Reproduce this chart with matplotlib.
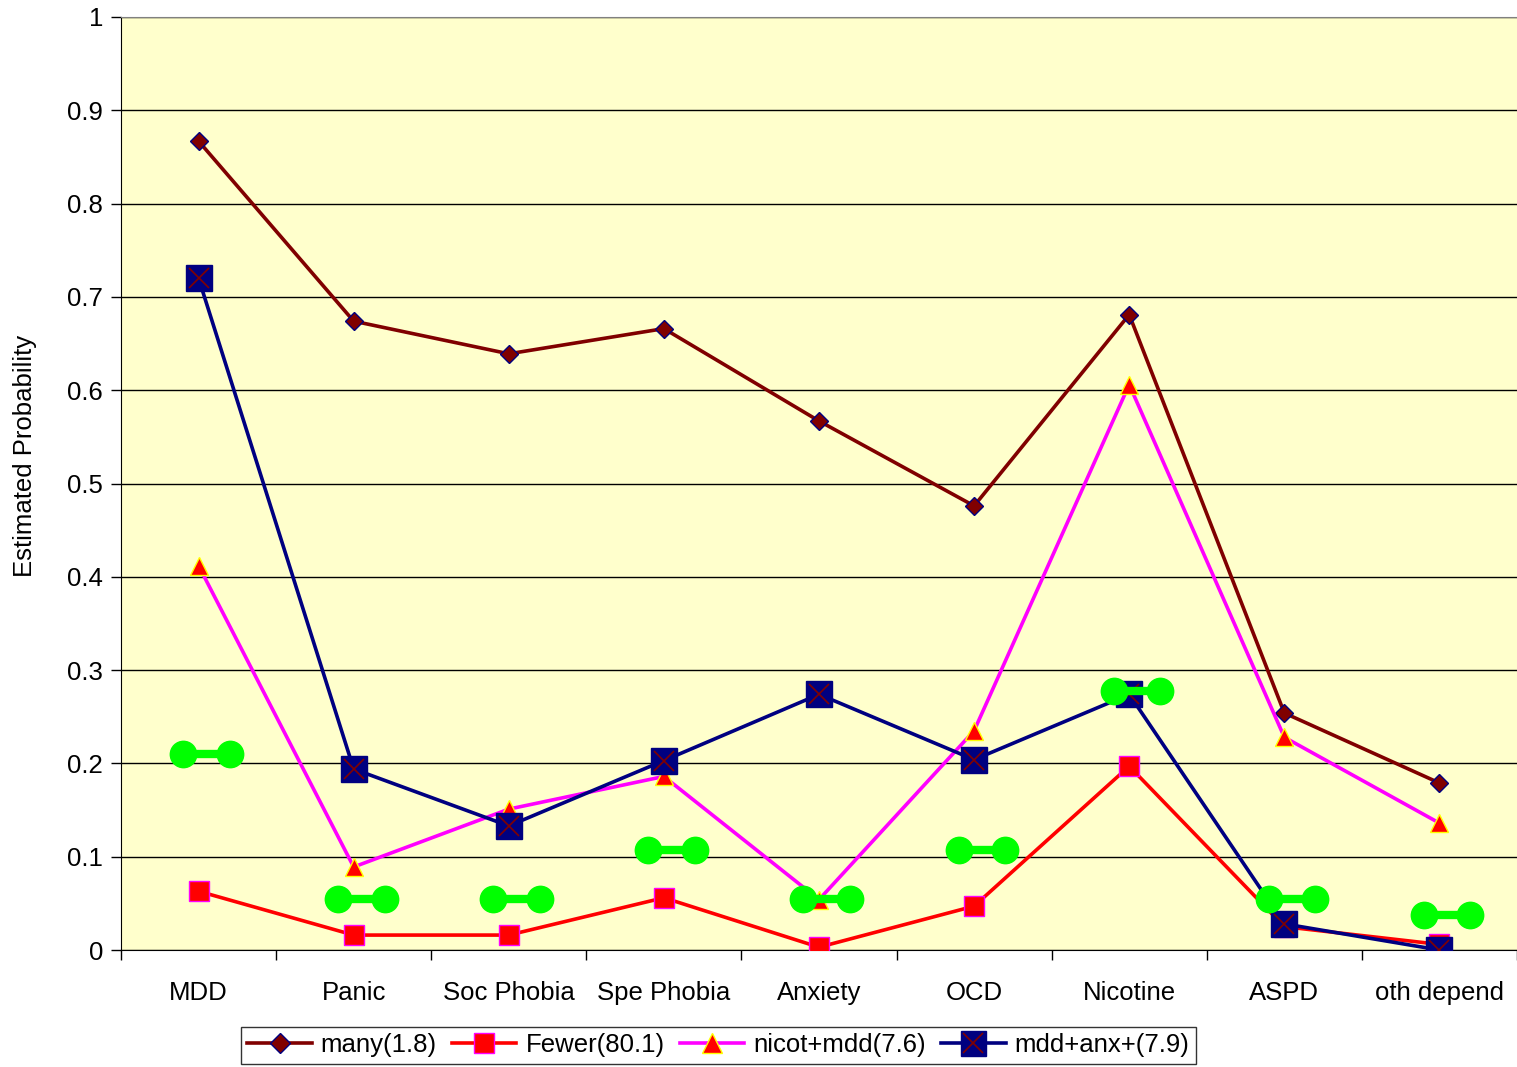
import matplotlib
matplotlib.use("Agg")
import matplotlib.pyplot as plt
from matplotlib.lines import Line2D

plt.rcParams['font.family'] = ['Liberation Sans', 'DejaVu Sans']

# --- data ----------------------------------------------------
categories = ["MDD", "Panic", "Soc Phobia", "Spe Phobia", "Anxiety",
              "OCD", "Nicotine", "ASPD", "oth depend"]

many = [0.867, 0.674, 0.639, 0.666, 0.567, 0.476, 0.681, 0.254, 0.179]
fewer = [0.063, 0.016, 0.016, 0.056, 0.003, 0.047, 0.197, 0.025, 0.006]
nicot_mdd = [0.412, 0.089, 0.151, 0.186, 0.054, 0.235, 0.606, 0.228, 0.136]
mdd_anx = [0.720, 0.194, 0.133, 0.203, 0.274, 0.204, 0.274, 0.028, 0.0]

# green reference markers
reference = [0.210, 0.055, 0.055, 0.107, 0.055, 0.107, 0.278, 0.055, 0.038]

y_ticks = [0, 0.1, 0.2, 0.3, 0.4, 0.5, 0.6, 0.7, 0.8, 0.9, 1]
y_tick_labels = ["0", "0.1", "0.2", "0.3", "0.4", "0.5", "0.6", "0.7", "0.8", "0.9", "1"]

fs = 18.5

# --- figure ---------------------------------------------------
fig = plt.figure(figsize=(15.17, 10.67), dpi=100)
ax = fig.add_axes([121/1517, 117/1067, 1396/1517, 933/1067])
ax.set_facecolor('#FFFFCC')

x = list(range(len(categories)))
lw = 2.6

ax.plot(x, many, color='#800000', lw=lw, marker='D', ms=9,
        mfc='#800000', mec='#000080', mew=1, zorder=3)
ax.plot(x, fewer, color='#FF0000', lw=lw, marker='s', ms=14,
        mfc='#FF0000', mec='#FF00FF', mew=1, zorder=3)
ax.plot(x, nicot_mdd, color='#FF00FF', lw=lw, marker='^', ms=13,
        mfc='#FF0000', mec='#FFFF00', mew=1, zorder=3)
ax.plot(x, mdd_anx, color='#000080', lw=lw, marker='s', ms=19,
        mfc='#000080', mec='#000080', zorder=4)
ax.plot(x, mdd_anx, ls='none', marker='x', ms=15, mec='#800000',
        mew=1.2, zorder=4)

# green dumbbells
for i, v in enumerate(reference):
    ax.plot([i - 0.1, i + 0.2], [v, v], color='#00FF00', lw=6,
            marker='o', ms=19, mfc='#00FF00', mec='#00FF00',
            solid_capstyle='butt', zorder=6)

ax.set_xlim(-0.5, len(categories) - 0.5)
ax.set_ylim(0, 1)
ax.set_yticks(y_ticks)
ax.set_yticklabels(y_tick_labels, fontsize=fs)
ax.yaxis.grid(True, color='black', lw=1)
ax.set_axisbelow(True)

# category boundaries as tick marks, labels at the centres
ax.set_xticks([i - 0.5 for i in range(len(categories) + 1)])
ax.set_xticklabels([])
ax.set_xticks(x, minor=True)
ax.set_xticklabels(categories, minor=True, fontsize=fs)
ax.tick_params(axis='x', which='major', direction='out', length=7,
               width=1, color='black')
ax.tick_params(axis='x', which='minor', length=0, pad=22)
ax.tick_params(axis='y', direction='out', length=7, width=1, pad=6)

ax.spines['right'].set_visible(False)
ax.spines['top'].set_color('#808080')
ax.spines['left'].set_color('black')
ax.spines['bottom'].set_color('black')

ax.set_ylabel("Estimated Probability", fontsize=fs, va='center')
ax.yaxis.set_label_coords(-0.069, 0.53)

handles = [
    Line2D([], [], color='#800000', lw=lw, marker='D', ms=10,
           mfc='#800000', mec='#000080'),
    Line2D([], [], color='#FF0000', lw=lw, marker='s', ms=15,
           mfc='#FF0000', mec='#FF00FF'),
    Line2D([], [], color='#FF00FF', lw=lw, marker='^', ms=15,
           mfc='#FF0000', mec='#FFFF00'),
    (Line2D([], [], color='#000080', lw=lw, marker='s', ms=18,
            mfc='#000080', mec='#000080'),
     Line2D([], [], ls='none', marker='x', ms=14, mec='#800000', mew=1.2)),
]
labels = ["many(1.8)", "Fewer(80.1)", "nicot+mdd(7.6)", "mdd+anx+(7.9)"]
leg = fig.legend(handles, labels, loc='center', bbox_to_anchor=(0.4736, 0.0205),
                 ncol=4, fontsize=fs, frameon=True, fancybox=False,
                 edgecolor='black', handlelength=2.5, handletextpad=0.35,
                 columnspacing=0.6, borderpad=0.25, borderaxespad=0)
leg.get_frame().set_linewidth(1)

plt.savefig("out.png", dpi=100)
